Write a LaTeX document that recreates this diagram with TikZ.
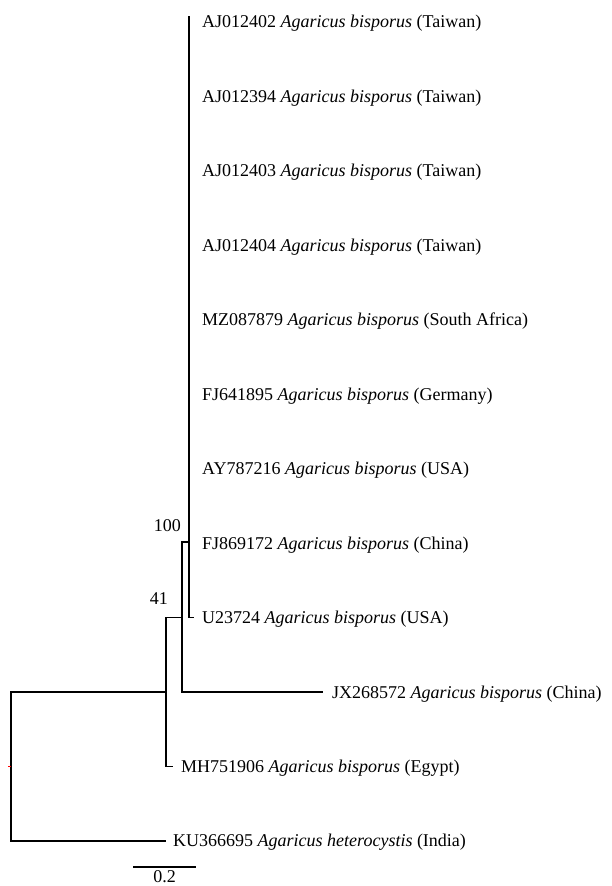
\documentclass[tikz,border=0pt]{standalone}
\usepackage{fontspec}
\setmainfont{Liberation Serif}
\begin{document}
\begin{tikzpicture}[x=1pt,y=-1pt,
  br/.style={line width=1.8pt, line cap=rect},
  lab/.style={anchor=base west, inner sep=0pt, font=\fontsize{18}{21}\selectfont},
  boot/.style={anchor=base east, inner sep=0pt, font=\fontsize{18}{21}\selectfont}]
\useasboundingbox (0,0) rectangle (612,886);
% tips of the big clade
\foreach \k in {0,...,8} {\coordinate (t\k) at (189,{21.5+74.5*\k});}
\coordinate (ctop) at (189,17);
\coordinate (c8) at (193,617.5);
\coordinate (cj) at (189,542);
% internal nodes
\coordinate (n100) at (182,542);
\coordinate (n100b) at (182,692);
\coordinate (tJX) at (322,692);
\coordinate (n41) at (166,617.5);
\coordinate (n41b) at (166,766.5);
\coordinate (tMH) at (172,766.5);
\coordinate (r) at (11,692);
\coordinate (rb) at (11,841);
\coordinate (tKU) at (165,841);
\coordinate (rm) at (11,766.5);
\coordinate (rtick) at (8,766.5);
% branches
\draw[br] (ctop) -- (t8) -- (c8);
\draw[br] (cj) -- (n100) -- (n100b) -- (tJX);
\draw[br] (n100 |- n41) -- (n41) -- (n41b) -- (tMH);
\draw[br] (n41 |- r) -- (r) -- (rb) -- (tKU);
\draw[red, line width=1pt] (rtick) -- (rm);
% labels
\node[lab] (l0) at (202,27.5) {AJ012402 \textit{Agaricus bisporus} (Taiwan)};
\node[lab] (l1) at (202,102) {AJ012394 \textit{Agaricus bisporus} (Taiwan)};
\node[lab] (l2) at (202,176.5) {AJ012403 \textit{Agaricus bisporus} (Taiwan)};
\node[lab] (l3) at (202,251) {AJ012404 \textit{Agaricus bisporus} (Taiwan)};
\node[lab] (l4) at (202,325.5) {MZ087879 \textit{Agaricus bisporus} (South Africa)};
\node[lab] (l5) at (202,400) {FJ641895 \textit{Agaricus bisporus} (Germany)};
\node[lab] (l6) at (202,474.5) {AY787216 \textit{Agaricus bisporus} (USA)};
\node[lab] (l7) at (202,549) {FJ869172 \textit{Agaricus bisporus} (China)};
\node[lab] (l8) at (202,623.5) {U23724 \textit{Agaricus bisporus} (USA)};
\node[lab] (lJX) at (332,698) {JX268572 \textit{Agaricus bisporus} (China)};
\node[lab] (lMH) at (181,772.5) {MH751906 \textit{Agaricus bisporus} (Egypt)};
\node[lab] (lKU) at (173,846.5) {KU366695 \textit{Agaricus heterocystis} (India)};
% bootstrap values
\node[boot] (b100) at (181,531) {100};
\node[boot] (b41) at (168,604) {41};
% scale bar
\coordinate (sa) at (133,867);
\coordinate (sb) at (196,867);
\draw[line width=1.8pt] (sa) -- (sb);
\node[inner sep=0pt, anchor=base, font=\fontsize{18}{21}\selectfont] (sl) at (164.5,882) {0.2};
\end{tikzpicture}
\end{document}
